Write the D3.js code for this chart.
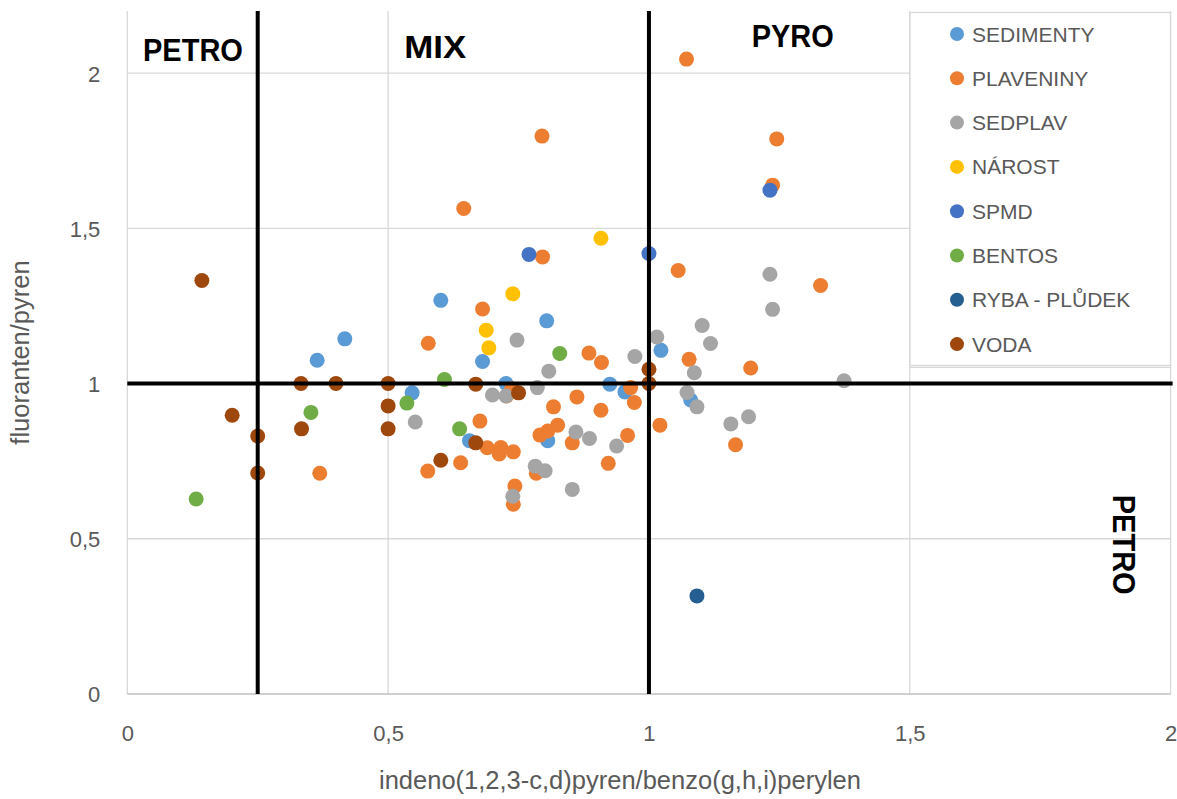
<!DOCTYPE html>
<html>
<head>
<meta charset="utf-8">
<script src="https://cdn.jsdelivr.net/npm/d3@7"></script>
<style>
  html, body { margin: 0; padding: 0; background: #ffffff; }
  svg { display: block; font-family: "Liberation Sans", Arial, sans-serif; }
</style>
</head>
<body>
<svg id="chart" width="1177" height="799"></svg>
<script>
// Diagnostic ratio plot: IP/(IP+BghiP) vs. Fla/Pyr per sample type
const seriesNames = ["SEDIMENTY", "PLAVENINY", "SEDPLAV", "NÁROST", "SPMD", "BENTOS", "RYBA - PLŮDEK", "VODA"];
const seriesColors = ["#5B9BD5", "#ED7D31", "#A5A5A5", "#FFC000", "#4472C4", "#70AD47", "#255E91", "#9E480E"];

const sedimenty = [
  [0.417, 1.144], [0.364, 1.075], [0.601, 1.268], [0.804, 1.202], [0.681, 1.071],
  [1.023, 1.107], [0.546, 0.970], [0.726, 1.000], [0.925, 0.998], [0.954, 0.973],
  [0.806, 0.816], [0.656, 0.816], [1.080, 0.947]
];
const plaveniny = [
  [1.072, 2.045], [0.795, 1.797], [1.245, 1.788], [1.237, 1.639], [0.645, 1.564],
  [0.796, 1.408], [1.056, 1.364], [1.329, 1.316], [0.681, 1.240], [0.577, 1.130],
  [0.885, 1.098], [0.909, 1.068], [1.077, 1.078], [1.195, 1.050], [0.737, 0.983],
  [0.727, 0.960], [0.862, 0.957], [0.965, 0.987], [0.972, 0.939], [0.817, 0.925],
  [0.908, 0.914], [0.676, 0.879], [0.825, 0.866], [1.021, 0.866], [0.791, 0.834],
  [0.806, 0.847], [0.853, 0.809], [0.959, 0.833], [1.166, 0.803], [0.690, 0.793],
  [0.716, 0.794], [0.713, 0.773], [0.740, 0.780], [0.922, 0.743], [0.639, 0.745],
  [0.576, 0.718], [0.784, 0.711], [0.743, 0.670], [0.740, 0.611], [0.369, 0.711]
];
const sedplav = [
  [1.232, 1.352], [1.237, 1.239], [1.102, 1.187], [1.015, 1.150], [1.118, 1.129],
  [0.747, 1.140], [0.973, 1.087], [0.808, 1.040], [1.087, 1.035], [1.374, 1.009],
  [0.786, 0.987], [0.700, 0.963], [0.726, 0.960], [1.073, 0.971], [1.092, 0.925],
  [0.552, 0.876], [0.860, 0.844], [0.886, 0.823], [0.938, 0.799], [1.157, 0.870],
  [1.191, 0.893], [0.782, 0.734], [0.801, 0.719], [0.853, 0.659], [0.739, 0.637]
];
const narost = [[0.908, 1.468], [0.739, 1.289], [0.688, 1.172], [0.693, 1.115]];
const spmd = [[0.770, 1.416], [1.000, 1.419], [1.232, 1.623]];
const bentos = [[0.132, 0.628], [0.352, 0.907], [0.536, 0.937], [0.608, 1.013], [0.637, 0.854], [0.829, 1.097]];
const ryba = [[1.092, 0.316]];
const voda = [
  [0.143, 1.332], [0.201, 0.898], [0.250, 0.831], [0.250, 0.712], [0.333, 1.000],
  [0.334, 0.854], [0.400, 1.000], [0.500, 1.000], [0.500, 0.928], [0.500, 0.854],
  [0.668, 0.998], [0.750, 0.970], [0.668, 0.809], [0.601, 0.753], [1.000, 1.046],
  [1.000, 1.000]
];
const seriesData = [sedimenty, plaveniny, sedplav, narost, spmd, bentos, ryba, voda];

const xTicks = [0, 0.5, 1, 1.5, 2];
const yTicks = [0, 0.5, 1, 1.5, 2];
const xTitle = "indeno(1,2,3-c,d)pyren/benzo(g,h,i)perylen";
const yTitle = "fluoranten/pyren";

// Boundary lines between source regions
const xBounds = [0.25, 1];
const yBounds = [1];
const regionLabels = [
  { text: "PETRO", x: 0.03, y: 2.04, width: 100 },
  { text: "MIX", x: 0.531, y: 2.05, width: 62 },
  { text: "PYRO", x: 1.197, y: 2.083, width: 82 }
];

const fmt = v => String(v).replace(".", ",");

const svg = d3.select("#chart");
const x = d3.scaleLinear().domain([0, 2]).range([127.3, 1170.6]);
const y = d3.scaleLinear().domain([0, 2.2]).range([694, 11]);

// gridlines
const grid = svg.append("g");
grid.selectAll(".vg").data(xTicks).join("line")
  .attr("x1", d => x(d)).attr("x2", d => x(d))
  .attr("y1", y(2.2)).attr("y2", y(0))
  .attr("stroke", "#d9d9d9").attr("stroke-width", 1.3);
grid.selectAll(".hg").data(yTicks.filter(d => d > 0)).join("line")
  .attr("x1", x(0)).attr("x2", x(2))
  .attr("y1", d => y(d)).attr("y2", d => y(d))
  .attr("stroke", "#d9d9d9").attr("stroke-width", 1.3);
grid.append("line")
  .attr("x1", x(0)).attr("x2", x(2)).attr("y1", y(0)).attr("y2", y(0))
  .attr("stroke", "#bfbfbf").attr("stroke-width", 1.5);

// tick labels
const xAxis = d3.axisBottom(x).tickValues(xTicks).tickFormat(fmt).tickSize(0).tickPadding(0);
const gx = svg.append("g").attr("transform", `translate(0,${y(0)})`).call(xAxis);
gx.select(".domain").remove();
gx.selectAll("text").attr("y", 47).attr("dy", 0)
  .attr("font-size", 22).attr("fill", "#595959")
  .attr("font-family", "'Liberation Sans', Arial, sans-serif");

const yAxis = d3.axisLeft(y).tickValues(yTicks).tickFormat(fmt).tickSize(0).tickPadding(0);
const gy = svg.append("g").attr("transform", `translate(${x(0) - 27},0)`).call(yAxis);
gy.select(".domain").remove();
gy.selectAll("text").attr("x", 0).attr("dy", "0.36em")
  .attr("font-size", 22).attr("fill", "#595959")
  .attr("font-family", "'Liberation Sans', Arial, sans-serif");

// axis titles
svg.append("text")
  .attr("x", 620).attr("y", 789)
  .attr("text-anchor", "middle")
  .attr("font-size", 25.5).attr("fill", "#595959")
  .text(xTitle);
svg.append("text")
  .attr("transform", `translate(29,${(y(0) + y(2.2)) / 2}) rotate(-90)`)
  .attr("text-anchor", "middle")
  .attr("font-size", 25.5).attr("fill", "#595959")
  .text(yTitle);

// markers, drawn in series order
seriesData.forEach((pts, i) => {
  svg.append("g").selectAll("circle").data(pts).join("circle")
    .attr("cx", d => x(d[0])).attr("cy", d => y(d[1]))
    .attr("r", 7.5)
    .attr("fill", seriesColors[i]);
});

// region boundary lines
svg.append("g").selectAll("line").data(xBounds).join("line")
  .attr("x1", d => x(d)).attr("x2", d => x(d))
  .attr("y1", y(2.2)).attr("y2", y(0))
  .attr("stroke", "#000").attr("stroke-width", 4);
svg.append("g").selectAll("line").data(yBounds).join("line")
  .attr("x1", x(0)).attr("x2", x(2) + 2)
  .attr("y1", d => y(d)).attr("y2", d => y(d))
  .attr("stroke", "#000").attr("stroke-width", 4);

// region labels
svg.append("g").selectAll("text").data(regionLabels).join("text")
  .attr("x", d => x(d.x)).attr("y", d => y(d.y))
  .attr("font-size", 32).attr("font-weight", "bold").attr("fill", "#000")
  .attr("textLength", d => d.width).attr("lengthAdjust", "spacingAndGlyphs")
  .text(d => d.text);

// text box with rotated label in the lower right
svg.append("line")
  .attr("x1", x(1.5)).attr("x2", x(2)).attr("y1", 367.3).attr("y2", 367.3)
  .attr("stroke", "#d9d9d9").attr("stroke-width", 1.3);
svg.append("text")
  .attr("transform", `translate(1113,${y(0.642)}) rotate(90)`)
  .attr("font-size", 32).attr("font-weight", "bold").attr("fill", "#000")
  .attr("textLength", 100).attr("lengthAdjust", "spacingAndGlyphs")
  .text("PETRO");

// legend
const legend = svg.append("g");
legend.append("rect")
  .attr("x", 910).attr("y", 12.5).attr("width", 260.5).attr("height", 353)
  .attr("fill", "#fff").attr("stroke", "#d9d9d9").attr("stroke-width", 1.3);
const rows = legend.selectAll("g.row").data(seriesNames).join("g")
  .attr("transform", (d, i) => `translate(957,${34 + i * 44.3})`);
rows.append("circle").attr("r", 7).attr("fill", (d, i) => seriesColors[i]);
rows.append("text")
  .attr("x", 15).attr("dy", "0.36em")
  .attr("font-size", 21).attr("fill", "#595959")
  .text(d => d);
</script>
</body>
</html>
